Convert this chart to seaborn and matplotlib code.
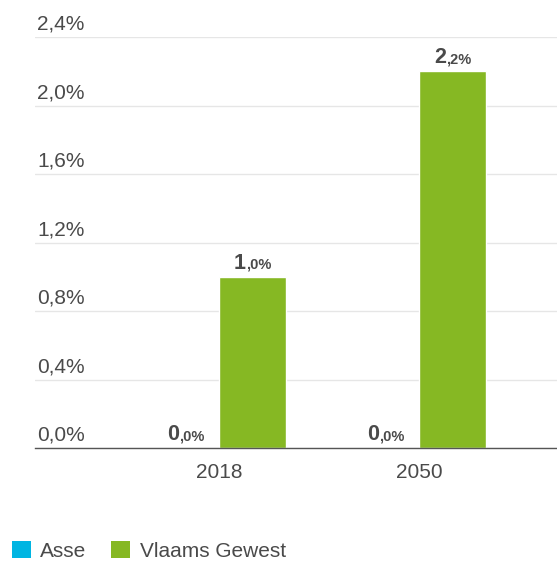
import matplotlib
matplotlib.use("Agg")
from matplotlib import pyplot as plt
from matplotlib.offsetbox import TextArea, HPacker, AnnotationBbox
from matplotlib.patches import Patch
import seaborn as sns
import pandas as pd

years = ['2018', '2050']
regions = ['Asse', 'Vlaams Gewest']
asse_values = [0.0, 0.0]
vlaams_values = [1.0, 2.2]
y_ticks = [0.0, 0.4, 0.8, 1.2, 1.6, 2.0, 2.4]
colors = {'Asse': '#00b5e2', 'Vlaams Gewest': '#86b823'}

df = pd.DataFrame({
    'year': years * 2,
    'region': ['Asse'] * 2 + ['Vlaams Gewest'] * 2,
    'value': asse_values + vlaams_values,
})

sns.set_style('white')
plt.rcParams['font.family'] = ['Liberation Sans', 'DejaVu Sans']
text_color = '#4a4a4a'

fig = plt.figure(figsize=(5.57, 5.62), dpi=100)
ax = fig.add_axes([35 / 557, 1 - 448 / 562, 1 - 35 / 557, (448 - 37) / 562])

sns.barplot(data=df, x='year', y='value', hue='region', hue_order=regions,
            palette=colors, width=0.67, gap=0, saturation=1, legend=False, ax=ax)

ax.set_xlim(-0.92, 1.69)
ax.set_ylim(0, 2.4)
ax.set_yticks(y_ticks)
ax.set_yticklabels([])
ax.yaxis.grid(True, color='#e6e6e6', linewidth=1)
ax.set_axisbelow(True)
for s in ['top', 'right', 'left']:
    ax.spines[s].set_visible(False)
ax.spines['bottom'].set_color('#555555')
ax.spines['bottom'].set_linewidth(1)
ax.tick_params(axis='both', length=0)
ax.tick_params(axis='x', pad=11, labelsize=15, labelcolor=text_color)
ax.set_xlabel('')
ax.set_ylabel('')

# y tick labels sit above their gridline
for t in y_ticks:
    ax.annotate(f'{t:.1f}%'.replace('.', ','), xy=(0.004, t),
                xycoords=ax.get_yaxis_transform(), xytext=(0, 2.5),
                textcoords='offset points', ha='left', va='bottom',
                fontsize=15, color=text_color)

# value labels: big bold integer part, smaller decimals
for container, region in zip(ax.containers, regions):
    for bar in container:
        h = bar.get_height()
        whole, dec = f'{h:.1f}'.split('.')
        big = TextArea(whole, textprops=dict(fontsize=15.5, fontweight='bold', color=text_color))
        small = TextArea(',' + dec + '%', textprops=dict(fontsize=10.5, fontweight='bold', color=text_color))
        pack = HPacker(children=[big, small], align='baseline', pad=0, sep=0)
        ab = AnnotationBbox(pack, (bar.get_x() + bar.get_width() / 2, h),
                            xybox=(0, 2), boxcoords='offset points',
                            box_alignment=(0.5, 0), frameon=False, pad=0)
        ax.add_artist(ab)

handles = [Patch(facecolor=colors[r], edgecolor='none') for r in regions]
fig.legend(handles, regions, loc='lower left', bbox_to_anchor=(12 / 557, 1 / 562),
           ncol=2, frameon=False, fontsize=15, handlelength=0.9, handleheight=0.9,
           handletextpad=0.45, columnspacing=1.2, borderpad=0, borderaxespad=0,
           labelcolor=text_color)

fig.savefig('out.png', dpi=100)
